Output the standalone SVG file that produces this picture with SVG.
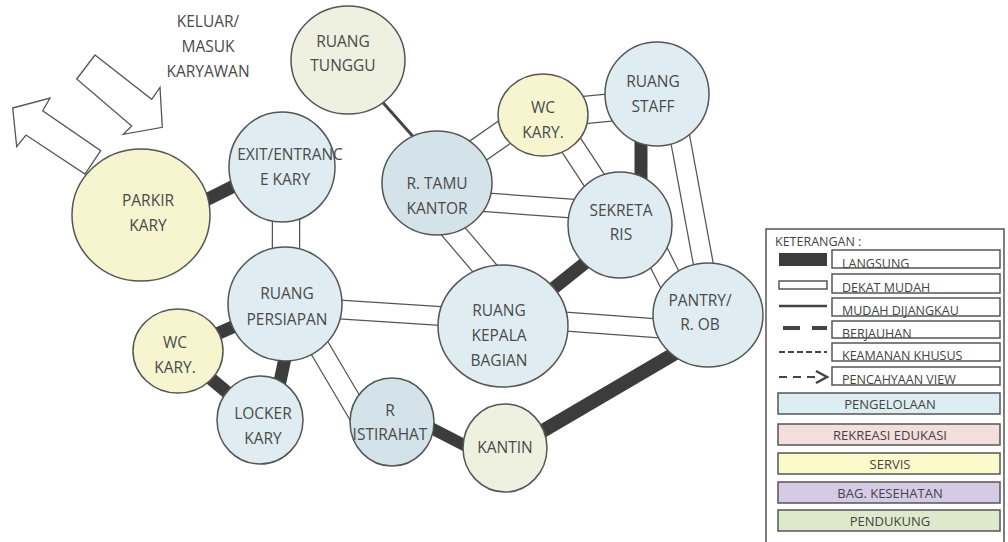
<svg xmlns="http://www.w3.org/2000/svg" width="1008" height="542" viewBox="0 0 1008 542">
<style>
.n{stroke:#555;stroke-width:1.5}
.b{fill:#dfedf2}
.bd{fill:#d4e3e9}
.y{fill:#f6f5d0}
.g{fill:#eef0e0}
.t{font-family:"Open Sans","Liberation Sans",sans-serif;font-size:15.5px;fill:#4a4a4a;text-anchor:middle}
.thick{stroke:#3c3c3c;stroke-linecap:butt;fill:none}
.dout{stroke:#555;fill:none}
.din{stroke:#fff;fill:none}
.lt{font-family:"Open Sans","Liberation Sans",sans-serif;font-size:12.5px;fill:#444}
.lc{font-family:"Open Sans","Liberation Sans",sans-serif;font-size:13px;fill:#444;text-anchor:middle}
.lb{fill:#fff;stroke:#555;stroke-width:1.5}
</style>
<rect width="1008" height="542" fill="#fff"/>

<g id="arrows" fill="#fff" stroke="#555" stroke-width="1.3" stroke-linejoin="miter">
<polygon points="12.7,108 50,98 42.7,110.7 100.7,150.7 85,174 26,135 16.7,146.7"/>
<polygon points="95,55 151.7,99.3 160,87.3 162.3,127.3 123.3,134.3 131.7,126 76.7,79"/>
</g>
<g id="label-keluar">
<text class="t" x="208" y="27">KELUAR/</text>
<text class="t" x="208" y="52">MASUK</text>
<text class="t" x="208" y="77">KARYAWAN</text>
</g>

<g id="connectors">
<!-- double (dekat mudah) -->
<line class="dout" x1="286" y1="170" x2="286" y2="300" stroke-width="28.5"/><line class="din" x1="286" y1="170" x2="286" y2="300" stroke-width="26"/>
<line class="dout" x1="440" y1="177" x2="545" y2="104" stroke-width="26.5"/><line class="din" x1="440" y1="177" x2="545" y2="104" stroke-width="24"/>
<line class="dout" x1="543" y1="114" x2="657" y2="103" stroke-width="28.5"/><line class="din" x1="543" y1="114" x2="657" y2="103" stroke-width="26"/>
<line class="dout" x1="560" y1="128" x2="606" y2="198" stroke-width="24.5"/><line class="din" x1="560" y1="128" x2="606" y2="198" stroke-width="22"/>
<line class="dout" x1="440" y1="199" x2="620" y2="212" stroke-width="20"/><line class="din" x1="440" y1="199" x2="620" y2="212" stroke-width="17.5"/>
<line class="dout" x1="430" y1="204" x2="510" y2="298" stroke-width="24"/><line class="din" x1="430" y1="204" x2="510" y2="298" stroke-width="21.5"/>
<line class="dout" x1="285" y1="306" x2="503" y2="320" stroke-width="20"/><line class="din" x1="285" y1="306" x2="503" y2="320" stroke-width="17.5"/>
<line class="dout" x1="296" y1="308" x2="365" y2="425" stroke-width="22"/><line class="din" x1="296" y1="308" x2="365" y2="425" stroke-width="19.5"/>
<line class="dout" x1="503" y1="317" x2="708" y2="332" stroke-width="20"/><line class="din" x1="503" y1="317" x2="708" y2="332" stroke-width="17.5"/>
<line class="dout" x1="673" y1="100" x2="710" y2="300" stroke-width="21"/><line class="din" x1="673" y1="100" x2="710" y2="300" stroke-width="18.5"/>
<line class="dout" x1="640" y1="220" x2="695" y2="330" stroke-width="25"/><line class="din" x1="640" y1="220" x2="695" y2="330" stroke-width="22.5"/>
<!-- thin -->
<line x1="370" y1="88" x2="425" y2="150" stroke="#444" stroke-width="3"/>
<!-- thick (langsung) -->
<line class="thick" x1="150" y1="228" x2="290" y2="158" stroke-width="13"/>
<line class="thick" x1="641" y1="130" x2="641" y2="190" stroke-width="13"/>
<line class="thick" x1="620" y1="235" x2="520" y2="315" stroke-width="13"/>
<line class="thick" x1="708" y1="334" x2="505" y2="453" stroke-width="14"/>
<line class="thick" x1="392" y1="408" x2="505" y2="466" stroke-width="12"/>
<line class="thick" x1="178" y1="351" x2="285" y2="304" stroke-width="13"/>
<line class="thick" x1="178" y1="351" x2="260" y2="420" stroke-width="13"/>
<line class="thick" x1="276" y1="400" x2="290" y2="335" stroke-width="13"/>
</g>

<g id="parkir"><ellipse class="n y" cx="141" cy="215" rx="69" ry="66"/><text class="t" x="148" y="206">PARKIR</text><text class="t" x="148" y="231">KARY</text></g>
<g id="exit"><ellipse class="n b" cx="282" cy="167" rx="53" ry="55"/><text class="t" x="290" y="160">EXIT/ENTRANC</text><text class="t" x="285" y="185">E KARY</text></g>
<g id="tunggu"><ellipse class="n g" cx="348" cy="60" rx="57" ry="54"/><text class="t" x="343" y="47">RUANG</text><text class="t" x="343" y="71">TUNGGU</text></g>
<g id="tamu"><ellipse class="n bd" cx="437" cy="183" rx="55" ry="52"/><text class="t" x="437" y="189">R. TAMU</text><text class="t" x="437" y="214">KANTOR</text></g>
<g id="wc-top"><ellipse class="n y" cx="543" cy="115" rx="45" ry="41"/><text class="t" x="543" y="113">WC</text><text class="t" x="543" y="138">KARY.</text></g>
<g id="staff"><ellipse class="n b" cx="657" cy="94" rx="52" ry="52"/><text class="t" x="653" y="87">RUANG</text><text class="t" x="653" y="112">STAFF</text></g>
<g id="sekretaris"><ellipse class="n b" cx="620" cy="225" rx="52" ry="53"/><text class="t" x="621" y="216">SEKRETA</text><text class="t" x="621" y="240">RIS</text></g>
<g id="pantry"><ellipse class="n b" cx="708" cy="315" rx="55" ry="52"/><text class="t" x="700" y="306">PANTRY/</text><text class="t" x="700" y="330">R. OB</text></g>
<g id="kepala"><ellipse class="n b" cx="503" cy="326" rx="65" ry="61"/><text class="t" x="499" y="316">RUANG</text><text class="t" x="499" y="341">KEPALA</text><text class="t" x="499" y="366">BAGIAN</text></g>
<g id="persiapan"><ellipse class="n b" cx="285" cy="304" rx="57" ry="57"/><text class="t" x="287" y="299">RUANG</text><text class="t" x="287" y="325">PERSIAPAN</text></g>
<g id="wc-left"><ellipse class="n y" cx="178" cy="351" rx="45" ry="42"/><text class="t" x="175" y="348">WC</text><text class="t" x="175" y="373">KARY.</text></g>
<g id="locker"><ellipse class="n b" cx="260" cy="420" rx="43" ry="44"/><text class="t" x="263" y="419">LOCKER</text><text class="t" x="263" y="444">KARY</text></g>
<g id="istirahat"><ellipse class="n bd" cx="392" cy="422" rx="42" ry="44"/><text class="t" x="390" y="416">R</text><text class="t" x="390" y="440">ISTIRAHAT</text></g>
<g id="kantin"><ellipse class="n g" cx="505" cy="448" rx="42" ry="44"/><text class="t" x="505" y="453">KANTIN</text></g>

<g id="legend">
<rect x="766" y="229" width="238" height="320" fill="#fff" stroke="#555" stroke-width="1.5"/>
<text class="lt" x="775" y="246" font-size="11">KETERANGAN :</text>
<rect x="779" y="253" width="48" height="13" fill="#3c3c3c"/>
<rect x="779" y="281" width="48" height="8" fill="#fff" stroke="#555" stroke-width="1.5"/>
<line x1="779" y1="306" x2="827" y2="306" stroke="#444" stroke-width="2.5"/>
<line x1="783" y1="328" x2="827" y2="328" stroke="#444" stroke-width="4" stroke-dasharray="17 12"/>
<line x1="779" y1="352" x2="827" y2="352" stroke="#444" stroke-width="2" stroke-dasharray="6 3"/>
<line x1="779" y1="377" x2="816" y2="377" stroke="#444" stroke-width="2" stroke-dasharray="8 6"/>
<polyline points="816,371 827,377 816,383" fill="none" stroke="#444" stroke-width="2.5"/>
<rect class="lb" x="832" y="250" width="168" height="18"/>
<rect class="lb" x="832" y="274" width="168" height="19"/>
<rect class="lb" x="832" y="298" width="168" height="18"/>
<rect class="lb" x="832" y="321" width="168" height="17"/>
<rect class="lb" x="832" y="343" width="168" height="18"/>
<rect class="lb" x="832" y="367" width="168" height="18"/>
<text class="lt" x="842" y="268">LANGSUNG</text>
<text class="lt" x="842" y="292">DEKAT MUDAH</text>
<text class="lt" x="842" y="315">MUDAH DIJANGKAU</text>
<text class="lt" x="842" y="338">BERJAUHAN</text>
<text class="lt" x="842" y="360">KEAMANAN KHUSUS</text>
<text class="lt" x="842" y="384">PENCAHYAAN VIEW</text>
<rect x="778" y="393" width="222" height="21" fill="#dcedf3" stroke="#555" stroke-width="1.5"/>
<text class="lc" x="890" y="409">PENGELOLAAN</text>
<rect x="778" y="424" width="222" height="21" fill="#f3dede" stroke="#555" stroke-width="1.5"/>
<text class="lc" x="890" y="440">REKREASI EDUKASI</text>
<rect x="778" y="453" width="222" height="21" fill="#fbfacb" stroke="#555" stroke-width="1.5"/>
<text class="lc" x="890" y="469">SERVIS</text>
<rect x="778" y="482" width="222" height="21" fill="#d6cbe4" stroke="#555" stroke-width="1.5"/>
<text class="lc" x="890" y="498">BAG. KESEHATAN</text>
<rect x="778" y="510" width="222" height="21" fill="#dee9cb" stroke="#555" stroke-width="1.5"/>
<text class="lc" x="890" y="526">PENDUKUNG</text>
</g>
</svg>
